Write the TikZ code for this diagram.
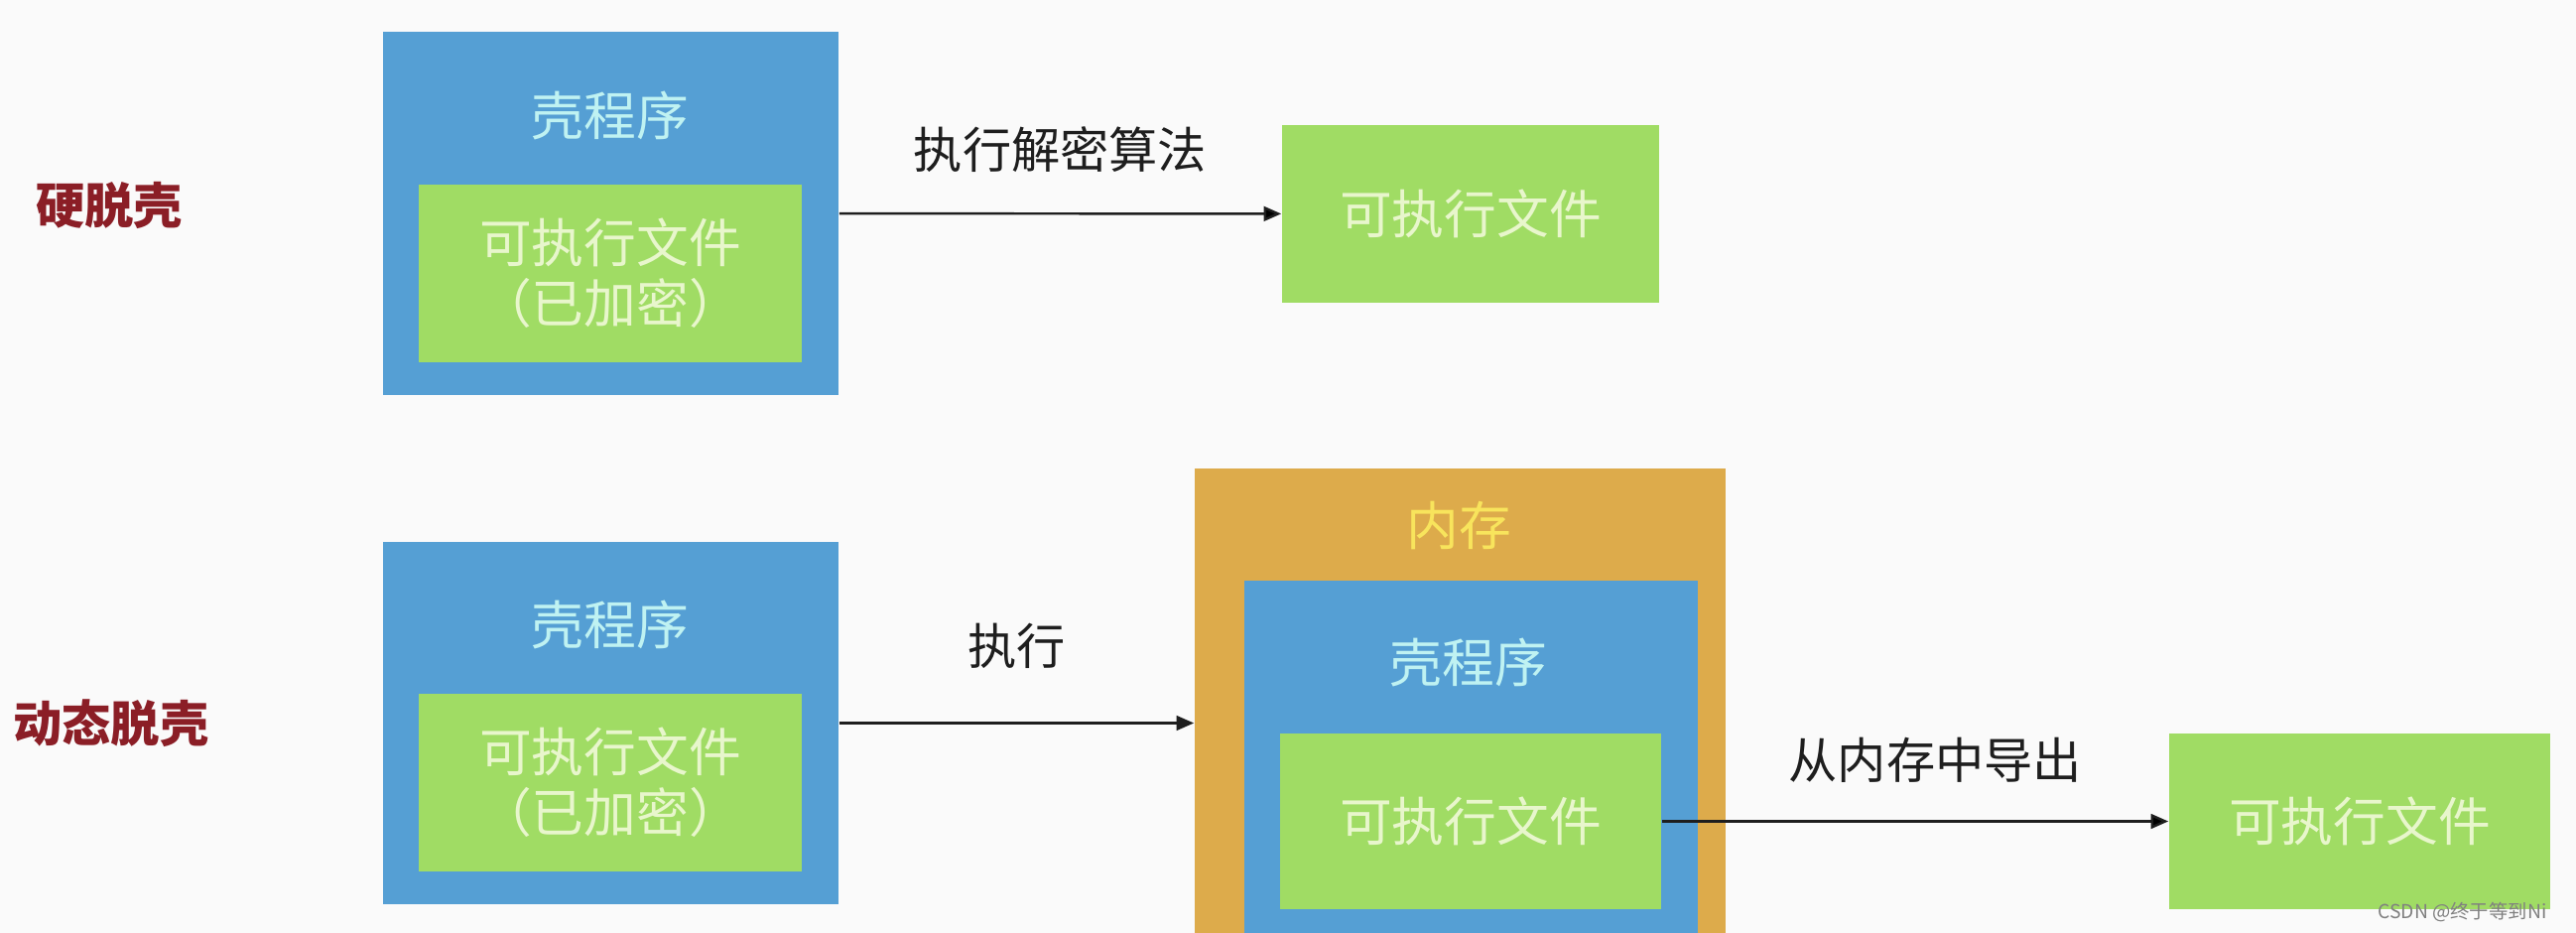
\documentclass[tikz,border=0pt]{standalone}
\usepackage{fontspec}
\setmainfont{Noto Sans CJK SC}
\usetikzlibrary{arrows.meta}
\definecolor{bgcol}{HTML}{FAFAFA}
\definecolor{shellblue}{HTML}{559FD4}
\definecolor{filegreen}{HTML}{A0DC64}
\definecolor{memorange}{HTML}{DDAB4B}
\definecolor{shelltxt}{HTML}{BFF2F2}
\definecolor{filetxt}{HTML}{E8F6CC}
\definecolor{memtxt}{HTML}{F8E45C}
\definecolor{methodred}{HTML}{8B1E26}
\definecolor{arrowcol}{HTML}{1E1E1E}
\begin{document}
\begin{tikzpicture}[x=0.01cm,y=-0.01cm,->,>={Triangle[length=5pt,width=4.2pt]},
  shell box/.style={fill=shellblue,inner sep=0pt,minimum width=4.59cm,minimum height=3.65cm},
  file box/.style={fill=filegreen,inner sep=0pt,minimum width=3.86cm,minimum height=1.78cm,
    text=filetxt,font=\fontsize{15}{17.4}\selectfont,align=center},
  title text/.style={text=shelltxt,font=\fontsize{15}{18}\selectfont,inner sep=0pt},
  method text/.style={text=methodred,font=\fontsize{14}{16}\selectfont\bfseries,inner sep=0pt},
  step text/.style={text=arrowcol,font=\fontsize{14}{16}\selectfont,inner sep=0pt},
  flow/.style={draw=arrowcol,line width=0.7pt}]

  \clip (0,0) rectangle (2596,940);
  \fill[bgcol] (0,0) rectangle (2596,940);

  % hard unpacking (top row)
  \node[method text] (hard) at (110,207) {硬脱壳};
  \node[shell box] (shell1) at (615.5,215) {};
  \node[title text] (shell1title) at (615,116) {壳程序};
  \node[file box] (packed1) at (615,275.5) {可执行文件\\（已加密）};
  \node[file box,minimum width=3.80cm,minimum height=1.79cm] (plain1) at (1482,215.5) {可执行文件};

  % dynamic unpacking (bottom row)
  \node[method text] (dynamic) at (112,729) {动态脱壳};
  \node[shell box] (shell2) at (615.5,728.5) {};
  \node[title text] (shell2title) at (615,629) {壳程序};
  \node[file box] (packed2) at (615,788.5) {可执行文件\\（已加密）};

  \node[fill=memorange,inner sep=0pt,minimum width=5.35cm,minimum height=5.08cm] (mem) at (1471.5,726) {};
  \node[title text,text=memtxt] (memtitle) at (1470,530) {内存};
  \node[fill=shellblue,inner sep=0pt,minimum width=4.57cm,minimum height=4.05cm] (core) at (1482.5,787.5) {};
  \node[title text] (coretitle) at (1480,667) {壳程序};
  \node[file box,minimum width=3.84cm,minimum height=1.77cm] (loaded) at (1482,827.5) {可执行文件};
  \node[file box,minimum width=3.84cm,minimum height=1.77cm] (plain2) at (2378,827.5) {可执行文件};

  % connectors
  \path[flow]
    (shell1) edge node[step text,above=0.4cm,midway] {执行解密算法} (plain1)
    (loaded) edge node[step text,above=0.38cm,pos=0.54] {从内存中导出} (plain2);
  \draw[flow] (shell2.east) -- node[step text,above=0.54cm,midway] {执行} (shell2.east -| mem.west);

  \node[anchor=east,text=gray,font=\fontsize{5.5}{6}\selectfont,inner sep=0pt] (mark) at (2567,919) {CSDN @终于等到Ni};
\end{tikzpicture}
\end{document}
